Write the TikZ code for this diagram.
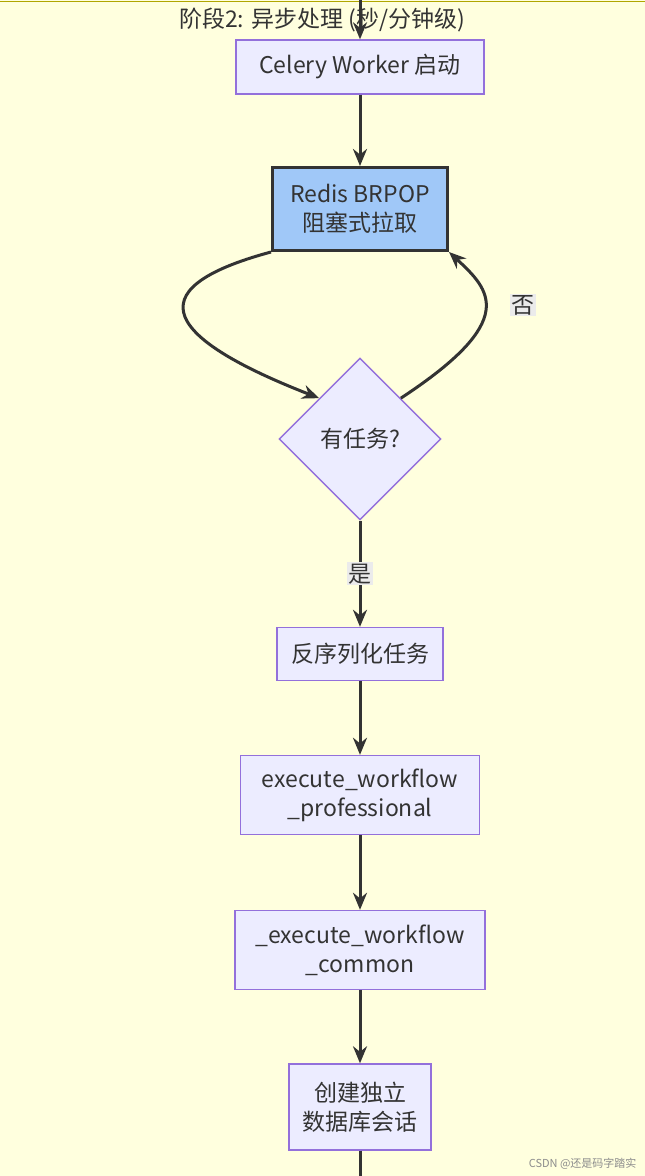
\documentclass[tikz,border=0pt]{standalone}
\usepackage{fontspec}
\setmainfont{Noto Sans CJK SC}
\usetikzlibrary{shapes.geometric,arrows.meta}
\definecolor{bg}{HTML}{FFFFDE}
\definecolor{nfill}{HTML}{ECECFF}
\definecolor{nline}{HTML}{9370DB}
\definecolor{ed}{HTML}{333333}
\definecolor{bl}{HTML}{A0C8F8}
\begin{document}
\begin{tikzpicture}[x=1pt,y=-1pt,
  box/.style={draw=nline,fill=nfill,line width=1.4pt,align=center,inner sep=0pt,text=ed,font=\fontsize{23}{29}\selectfont},
  edge/.style={draw=ed,line width=3pt,-{Stealth[length=17pt,width=14pt]}},
  lbl/.style={fill=black!8,inner sep=1.5pt,text=ed,font=\fontsize{23}{26}\selectfont}]
\useasboundingbox (0,0) rectangle (645,1176);
\fill[bg] (0,0) rectangle (645,1176);
\draw[draw=olive!70!yellow,line width=1pt] (0,1.5) -- (645,1.5);
\node[text=ed,font=\fontsize{23}{26}\selectfont] (title) at (322,20) {阶段2: 异步处理 (秒/分钟级)};
\coordinate (top) at (360,0);
\node[box,minimum width=248,minimum height=54] (celery) at (360,67) {Celery Worker 启动};
\node[box,draw=ed,line width=3pt,fill=bl,minimum width=175,minimum height=83] (redis) at (360,209) {Redis BRPOP\\阻塞式拉取};
\node[diamond,draw=nline,fill=nfill,line width=1.4pt,minimum width=162,minimum height=162,inner sep=0pt,text=ed,font=\fontsize{23}{26}\selectfont] (dia) at (360,439) {有任务?};
\node[box,minimum width=166,minimum height=53] (deser) at (360,654) {反序列化任务};
\node[box,minimum width=239,minimum height=79] (prof) at (360,795) {execute\_workflow\\\_professional};
\node[box,minimum width=250,minimum height=79] (comm) at (360,950) {\_execute\_workflow\\\_common};
\node[box,minimum width=142,minimum height=86] (db) at (360,1107) {创建独立\\数据库会话};
\coordinate (bot) at (360,1176);
\draw[edge] (top) -- (celery);
\draw[edge] (celery) -- (redis);
\draw[edge] (redis.south west) .. controls (130,290) and (170,340) .. (dia.north west);
\draw[edge] (dia.north east) .. controls (520,320) and (490,290) .. (redis.south east);
\node[lbl] (no) at (523,305) {否};
\draw[edge] (dia) -- (deser) node[lbl,pos=0.5] (yes) {是};
\draw[edge] (deser) -- (prof);
\draw[edge] (prof) -- (comm);
\draw[edge] (comm) -- (db);
\draw[ed,line width=3pt] (db) -- (bot);
\node[text=black!45,font=\fontsize{11}{12}\selectfont,anchor=east] (wm) at (640,1164) {CSDN @还是码字踏实};
\end{tikzpicture}
\end{document}
